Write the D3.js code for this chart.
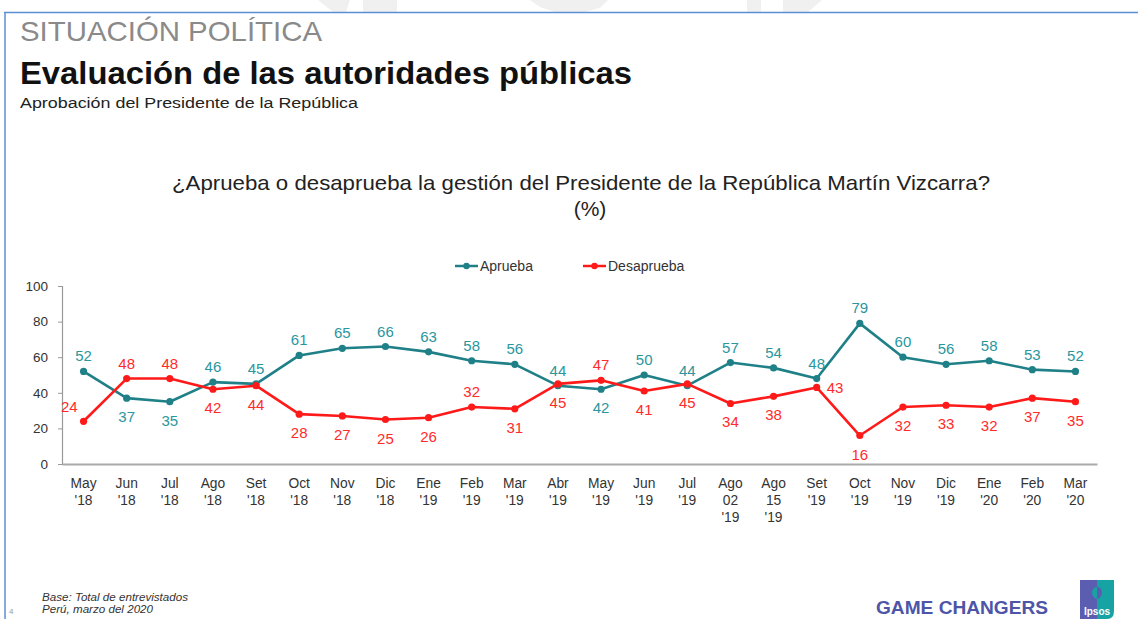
<!DOCTYPE html>
<html>
<head>
<meta charset="utf-8">
<script src="https://cdn.jsdelivr.net/npm/d3@7"></script>
<style>
  html, body { margin: 0; padding: 0; background: #fff; }
  svg { display: block; font-family: "Liberation Sans", Arial, sans-serif; }
</style>
</head>
<body>
<svg id="chart" width="1138" height="619"></svg>
<script>
// Survey waves (two-line labels; some waves need a third line)
const periods = [
  ["May", "'18"], ["Jun", "'18"], ["Jul", "'18"], ["Ago", "'18"], ["Set", "'18"],
  ["Oct", "'18"], ["Nov", "'18"], ["Dic", "'18"], ["Ene", "'19"], ["Feb", "'19"],
  ["Mar", "'19"], ["Abr", "'19"], ["May", "'19"], ["Jun", "'19"], ["Jul", "'19"],
  ["Ago", "02", "'19"], ["Ago", "15", "'19"], ["Set", "'19"], ["Oct", "'19"],
  ["Nov", "'19"], ["Dic", "'19"], ["Ene", "'20"], ["Feb", "'20"], ["Mar", "'20"]
];
const aprueba = [52, 37, 35, 46, 45, 61, 65, 66, 63, 58, 56, 44, 42, 50, 44, 57, 54, 48, 79, 60, 56, 58, 53, 52];
const desaprueba = [24, 48, 48, 42, 44, 28, 27, 25, 26, 32, 31, 45, 47, 41, 45, 34, 38, 43, 16, 32, 33, 32, 37, 35];
const yTicks = [0, 20, 40, 60, 80, 100];

// Where each value label sits relative to its point: a = above, b = below, l = left, r = right
const apruebaLabelSide = ["a","b","b","a","a","a","a","a","a","a","a","a","b","a","a","a","a","a","a","a","a","a","a","a"];
const desaprLabelSide  = ["l","a","a","b","b","b","b","b","b","a","b","b","a","b","b","b","b","r","b","b","b","b","b","b"];

const svg = d3.select("#chart");
const W = 1138, H = 619;

// Faint background watermark shapes along the top edge
const wm = svg.append("g").attr("fill", "#f0f0f0");
[
  [[318,0],[350,0],[346,12],[333,12]],
  [[363,0],[397,0],[397,12],[363,12]],
  [[530,0],[608,0],[600,8],[585,12],[555,12],[540,7]],
  [[747,0],[761,0],[761,12],[747,12]],
  [[783,0],[822,0],[808,12],[783,12]]
].forEach(p => wm.append("polygon").attr("points", p.map(d => d.join(",")).join(" ")));

// Slide frame
svg.append("line").attr("x1", 4).attr("x2", W).attr("y1", 12.5).attr("y2", 12.5)
  .attr("stroke", "#5b8fd4").attr("stroke-width", 1.5);
svg.append("line").attr("x1", 5).attr("x2", 5).attr("y1", 12).attr("y2", H)
  .attr("stroke", "#5b8fd4").attr("stroke-width", 1.5);

// Text helper: fixed run length so the wording fills its slot
function label(x, yPos, size, str, len, opts = {}) {
  const t = svg.append("text").attr("x", x).attr("y", yPos).attr("font-size", size)
    .attr("fill", opts.fill || "#222").text(str);
  if (len) t.attr("textLength", len).attr("lengthAdjust", "spacingAndGlyphs");
  if (opts.weight) t.attr("font-weight", opts.weight);
  if (opts.style) t.attr("font-style", opts.style);
  if (opts.anchor) t.attr("text-anchor", opts.anchor);
  return t;
}

// Header texts
label(20, 41, 27.5, "SITUACIÓN POLÍTICA", 302, { fill: "#8a8a8a" });
label(20, 84, 30.5, "Evaluación de las autoridades públicas", 612, { fill: "#111", weight: "bold" });
label(20, 108, 15.5, "Aprobación del Presidente de la República", 338, { fill: "#222" });

// Chart title
label(172, 190, 21, "¿Aprueba o desaprueba la gestión del Presidente de la República Martín Vizcarra?", 818, { fill: "#222" });
label(590, 216, 21, "(%)", null, { fill: "#222", anchor: "middle" });

const teal = "#1f8088", tealLabel = "#2a969e";
const red = "#ff1a1a", redLabel = "#ff2b2b";

// Scales
const x = d3.scaleBand().domain(d3.range(periods.length)).range([62, 1097]);
const y = d3.scaleLinear().domain([0, 100]).range([464, 286]);
const cx = i => x(i) + x.bandwidth() / 2;

// Y axis
const yAxis = svg.append("g").attr("transform", "translate(62,0)")
  .call(d3.axisLeft(y).tickValues(yTicks).tickSize(4).tickPadding(10));
yAxis.select(".domain").attr("stroke", "#999").attr("stroke-width", 1.2);
yAxis.selectAll(".tick line").attr("stroke", "#999");
yAxis.selectAll(".tick text").attr("font-size", 13.5).attr("fill", "#333")
  .attr("font-family", "Liberation Sans, Arial, sans-serif");

// X axis baseline
const xAxis = svg.append("g").attr("transform", "translate(0,464)")
  .call(d3.axisBottom(x).tickSize(0).tickFormat(""));
xAxis.select(".domain").attr("stroke", "#aaa").attr("stroke-width", 2.2);

// Category labels
const xl = svg.append("g").attr("font-size", 13.8).attr("fill", "#333").attr("text-anchor", "middle");
periods.forEach((p, i) => {
  const t = xl.append("text").attr("x", cx(i)).attr("y", 488);
  p.forEach((s, k) => t.append("tspan").attr("x", cx(i)).attr("dy", k === 0 ? 0 : 17).text(s));
});

// Legend
const legend = svg.append("g").attr("font-size", 14).attr("fill", "#333");
[[455, "Aprueba", teal], [583, "Desaprueba", red]].forEach(([lx, name, c]) => {
  legend.append("line").attr("x1", lx).attr("x2", lx + 23).attr("y1", 266).attr("y2", 266)
    .attr("stroke", c).attr("stroke-width", 2.5);
  legend.append("circle").attr("cx", lx + 11.5).attr("cy", 266).attr("r", 3.2).attr("fill", c);
  legend.append("text").attr("x", lx + 25).attr("y", 271).text(name);
});

// Series lines, markers and labels
function drawSeries(values, color, labelColor, sides) {
  const line = d3.line().x((d, i) => cx(i)).y(d => y(d));
  svg.append("path").datum(values).attr("d", line)
    .attr("fill", "none").attr("stroke", color).attr("stroke-width", 2.6).attr("stroke-linejoin", "round");
  svg.append("g").selectAll("circle").data(values).join("circle")
    .attr("cx", (d, i) => cx(i)).attr("cy", d => y(d)).attr("r", 3.6).attr("fill", color);
  svg.append("g").attr("font-size", 15).attr("fill", labelColor).selectAll("text").data(values).join("text")
    .attr("text-anchor", (d, i) => sides[i] === "l" ? "end" : sides[i] === "r" ? "start" : "middle")
    .attr("x", (d, i) => sides[i] === "l" ? cx(i) - 6 : sides[i] === "r" ? cx(i) + 10 : cx(i))
    .attr("y", (d, i) => {
      const py = y(d);
      if (sides[i] === "a") return py - 10;
      if (sides[i] === "b") return py + 24;
      if (sides[i] === "l") return py - 9;
      return py + 6;
    })
    .text(d => d);
}
drawSeries(aprueba, teal, tealLabel, apruebaLabelSide);
drawSeries(desaprueba, red, redLabel, desaprLabelSide);

// Footer notes
label(42, 601, 11, "Base: Total de entrevistados", 146, { fill: "#333", style: "italic" });
label(42, 613, 11, "Perú, marzo del 2020", 111, { fill: "#333", style: "italic" });
label(9, 614, 8, "4", null, { fill: "#999" });
label(876, 614, 19, "GAME CHANGERS", 172, { fill: "#4d55a8", weight: "bold" });

// Ipsos mark
const logo = svg.append("g").attr("transform", "translate(1080,580)");
logo.append("rect").attr("width", 17).attr("height", 39).attr("fill", "#5a5db0");
logo.append("path").attr("d", "M17,0 H34 V31 Q34,39 27,39 H17 Z").attr("fill", "#17a3a3");
logo.append("path").attr("d", "M17,7 C11,7 10,17 17,19 Z").attr("fill", "#17a3a3");
logo.append("path").attr("d", "M17,7 C23,7 24,17 17,19 Z").attr("fill", "#5a5db0");
logo.append("text").attr("x", 17).attr("y", 35).attr("text-anchor", "middle").attr("font-size", 10)
  .attr("font-weight", "bold").attr("fill", "#fff").text("Ipsos");
</script>
</body>
</html>
